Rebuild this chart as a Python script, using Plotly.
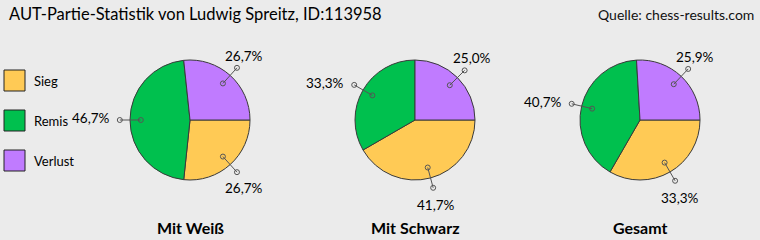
import math
import plotly.graph_objects as go

# ---- data ----
categories = ["Sieg", "Remis", "Verlust"]
colors = ["#FFCA55", "#00C04E", "#C07BFF"]
groups = ["Mit Weiß", "Mit Schwarz", "Gesamt"]
sieg = [4, 5, 9]
remis = [7, 4, 11]
verlust = [4, 3, 7]
title_text = "AUT-Partie-Statistik von Ludwig Spreitz, ID:113958"
source_text = "Quelle: chess-results.com"

# ---- layout constants ----
W, H = 760, 240
centers_x = [190, 415, 640]
CY = 120
R = 60
FONT = "Lato"

def px(x):
    return x / W

def py(y):
    return 1 - y / H

fig = go.Figure()
shapes = []
annotations = []

for gi, g in enumerate(groups):
    vals = [sieg[gi], remis[gi], verlust[gi]]
    cx = centers_x[gi]
    fig.add_trace(go.Pie(
        values=vals, labels=categories, sort=False, direction="clockwise",
        rotation=90, textinfo="none", hoverinfo="skip", showlegend=False,
        marker=dict(colors=colors, line=dict(color="#3a3a3a", width=1)),
        domain=dict(x=[px(cx - R), px(cx + R)], y=[py(CY + R), py(CY - R)]),
    ))
    total = sum(vals)
    start = 0.0
    for v in vals:
        frac = v / total
        mid = math.radians(start + frac * 180)
        start += frac * 360
        c, s = math.cos(mid), math.sin(mid)
        xi, yi = cx + 0.82 * R * c, CY + 0.82 * R * s
        xo, yo = cx + 1.17 * R * c, CY + 1.17 * R * s
        shapes.append(dict(type="line", xref="paper", yref="paper", layer="above",
                           x0=px(xi), y0=py(yi), x1=px(xo), y1=py(yo),
                           line=dict(color="#555555", width=1)))
        for (xx, yy) in [(xi, yi), (xo, yo)]:
            shapes.append(dict(type="circle", xref="paper", yref="paper", layer="above",
                               x0=px(xx - 2.5), x1=px(xx + 2.5), y0=py(yy + 2.5), y1=py(yy - 2.5),
                               line=dict(color="#555555", width=1), fillcolor="rgba(0,0,0,0)"))
        label = f"{frac * 100:.1f}%".replace(".", ",")
        if c < -0.5:
            ax, ay, xa, ya = xo - 8, yo - 2, "right", "middle"
        elif s < 0:
            ax, ay, xa, ya = xo + 10 * c, yo - 2, "center", "bottom"
        else:
            ax, ay, xa, ya = xo + 10 * c, yo + 3 + 5 * s * s, "center", "top"
        annotations.append(dict(x=px(ax), y=py(ay), xref="paper", yref="paper",
                                text=label, showarrow=False, xanchor=xa, yanchor=ya,
                                font=dict(family=FONT, size=13.5, color="#000000")))
    annotations.append(dict(x=px(cx), y=py(227), xref="paper", yref="paper",
                            text=f"<b>{g}</b>", showarrow=False, xanchor="center", yanchor="middle",
                            font=dict(family=FONT, size=16, color="#000000")))

# legend
for i, (cat, col) in enumerate(zip(categories, colors)):
    y0 = 70 + 40 * i
    shapes.append(dict(type="rect", xref="paper", yref="paper", layer="above",
                       x0=px(4), x1=px(25), y0=py(y0 + 21), y1=py(y0),
                       fillcolor=col, line=dict(color="#222222", width=1)))
    annotations.append(dict(x=px(32), y=py(y0 + 11), xref="paper", yref="paper",
                            text=cat, showarrow=False, xanchor="left", yanchor="middle",
                            font=dict(family=FONT, size=13, color="#000000")))

annotations.append(dict(x=px(7), y=py(14), xref="paper", yref="paper", text=title_text,
                        showarrow=False, xanchor="left", yanchor="middle",
                        font=dict(family=FONT, size=16.5, color="#000000")))
annotations.append(dict(x=px(756), y=py(14), xref="paper", yref="paper", text=source_text,
                        showarrow=False, xanchor="right", yanchor="middle",
                        font=dict(family=FONT, size=14, color="#111111")))

fig.update_layout(
    width=W, height=H, margin=dict(l=0, r=0, t=0, b=0),
    paper_bgcolor="#EBEBEB", plot_bgcolor="#EBEBEB",
    shapes=shapes, annotations=annotations, showlegend=False,
)
fig.write_html("out.html")
